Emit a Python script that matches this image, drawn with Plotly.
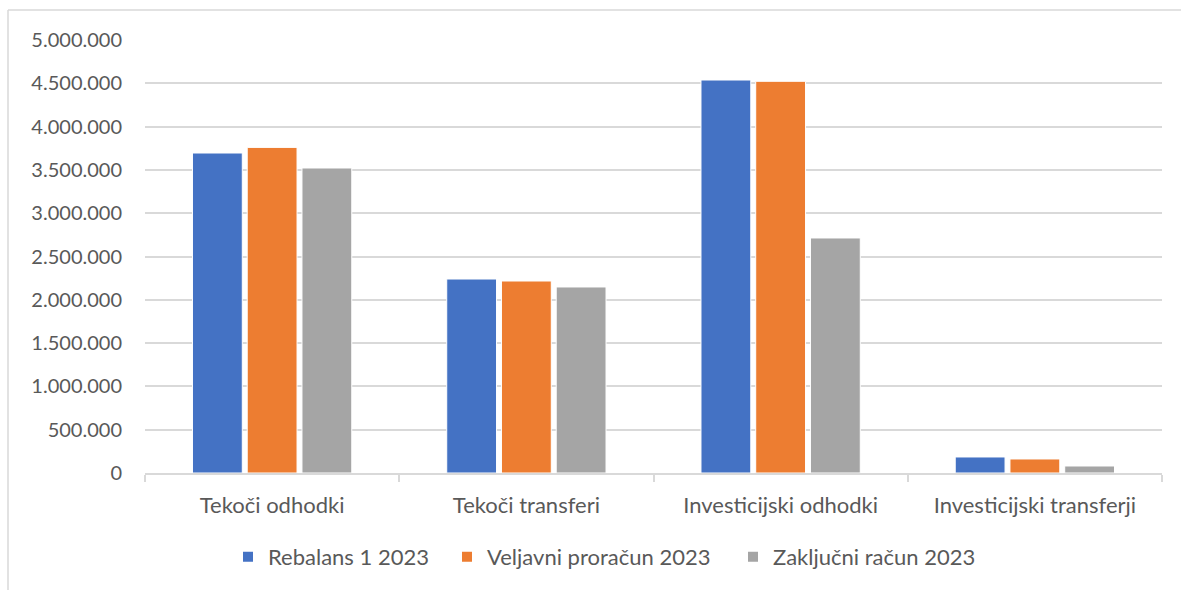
import plotly.graph_objects as go

categories = ["Tekoči odhodki", "Tekoči transferi", "Investicijski odhodki", "Investicijski transferji"]
series_names = ["Rebalans 1 2023", "Veljavni proračun 2023", "Zaključni račun 2023"]
rebalans = [3695000, 2240000, 4538000, 185000]
veljavni = [3760000, 2217000, 4523000, 162000]
zakljucni = [3522000, 2148000, 2714000, 81000]
colors = ["#4472C4", "#ED7D31", "#A5A5A5"]
y_ticks = list(range(0, 5000001, 500000))

FONT = "Lato"
TXT = "#595959"
GRID = "#D9D9D9"

# body margin is removed via post_script, so figure fills the window exactly
FW, FH = 1181, 590
L, R, T, B = 145, 1162, 40, 473
W, H = R - L, B - T

def px_x(p):
    return (p - L) / W

def px_y(p):
    return (B - p) / H

legend_ids = ["legend", "legend2", "legend3"]
legend_left_px = [228, 447, 733]

fig = go.Figure()
for name, vals, col, lid in zip(series_names, [rebalans, veljavni, zakljucni], colors, legend_ids):
    fig.add_trace(go.Bar(
        x=categories, y=vals, name=name, legend=lid,
        marker=dict(color=col, line=dict(color="white", width=1)),
    ))

legend_style = {}
for lid, lx in zip(legend_ids, legend_left_px):
    legend_style[lid] = dict(orientation="h", x=px_x(lx), xanchor="left",
                             y=px_y(557), yanchor="middle",
                             font=dict(family=FONT, size=22, color=TXT),
                             itemsizing="constant", itemwidth=30,
                             bgcolor="rgba(0,0,0,0)")

fig.update_layout(
    width=FW, height=FH,
    margin=dict(l=L, r=FW - R, t=T, b=FH - B),
    paper_bgcolor="white", plot_bgcolor="white",
    barmode="group", bargap=0.354, bargroupgap=0.09,
    separators=",.",
    font=dict(family=FONT, size=20, color=TXT),
    showlegend=True,
    xaxis=dict(showgrid=False, showline=True, linecolor=GRID, linewidth=1.5,
               ticks="outside", tickson="boundaries", ticklen=7, tickcolor=GRID,
               tickwidth=1.5, ticklabelstandoff=12,
               tickfont=dict(family=FONT, size=22, color=TXT)),
    yaxis=dict(range=[0, 5000000], tickvals=y_ticks, tickformat=",d",
               showgrid=True, gridcolor=GRID, gridwidth=1.5,
               zeroline=False, showline=False, ticks="",
               ticklabelstandoff=22,
               tickfont=dict(family=FONT, size=20, color=TXT)),
    shapes=[
        dict(type="line", xref="paper", yref="paper",
             x0=px_x(8), x1=px_x(1200), y0=px_y(10), y1=px_y(10),
             line=dict(color=GRID, width=1.5), layer="below"),
        dict(type="line", xref="paper", yref="paper",
             x0=px_x(8), x1=px_x(8), y0=px_y(10), y1=px_y(600),
             line=dict(color=GRID, width=1.5), layer="below"),
    ],
    **legend_style,
)

fig.write_html(
    "out.html",
    config={"displayModeBar": False},
    post_script="document.body.style.margin='0';document.body.style.overflow='hidden';",
)
